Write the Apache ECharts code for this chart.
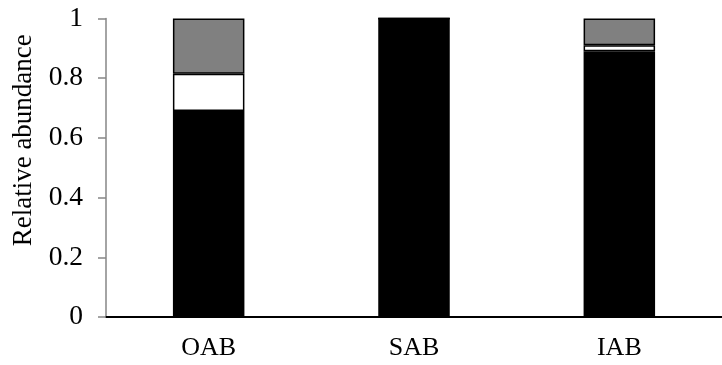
<!DOCTYPE html>
<html>
<head>
<meta charset="utf-8">
<script src="https://cdn.jsdelivr.net/npm/echarts@6/dist/echarts.min.js"></script>
<style>
html,body{margin:0;padding:0;background:#fff;}
#c{width:722px;height:365px;}
</style>
</head>
<body>
<div id="c"></div>
<script>
const categories = ['OAB', 'SAB', 'IAB'];
const blackValues = [0.69, 1.0, 0.89];
const whiteValues = [0.125, 0, 0.02];
const grayValues = [0.185, 0, 0.09];
const yTicks = [0, 0.2, 0.4, 0.6, 0.8, 1];

const font = 'Liberation Serif, Times New Roman, serif';
const border = { borderColor: '#000', borderWidth: 1.5 };

const chart = echarts.init(document.getElementById('c'), null, { renderer: 'canvas' });
chart.setOption({
  animation: false,
  backgroundColor: '#fff',
  grid: { left: 106, top: 18.5, width: 624, bottom: 48, containLabel: false },
  xAxis: {
    type: 'category',
    data: categories,
    axisLine: { lineStyle: { color: '#000', width: 2 } },
    axisTick: { show: false },
    axisLabel: { color: '#000', fontFamily: font, fontSize: 26, margin: 18 },
    splitLine: { show: false }
  },
  yAxis: {
    type: 'value',
    min: yTicks[0],
    max: yTicks[yTicks.length - 1],
    interval: 0.2,
    name: 'Relative abundance',
    nameLocation: 'middle',
    nameGap: 69,
    nameTextStyle: { color: '#000', fontFamily: font, fontSize: 27, padding: [0, 0, 0, 55] },
    axisLine: { show: true, lineStyle: { color: '#868686', width: 1.5 } },
    axisTick: { show: true, inside: false, length: 8, lineStyle: { color: '#868686', width: 1.5 } },
    axisLabel: { color: '#000', fontFamily: font, fontSize: 27.5, margin: 23 },
    splitLine: { show: false }
  },
  series: [
    { type: 'bar', stack: 'a', data: blackValues, barWidth: 71.5, itemStyle: Object.assign({ color: '#000' }, border) },
    { type: 'bar', stack: 'a', data: whiteValues, barWidth: 71.5, itemStyle: Object.assign({ color: '#fff' }, border) },
    { type: 'bar', stack: 'a', data: grayValues, barWidth: 71.5, itemStyle: Object.assign({ color: '#808080' }, border) }
  ]
});
</script>
</body>
</html>
